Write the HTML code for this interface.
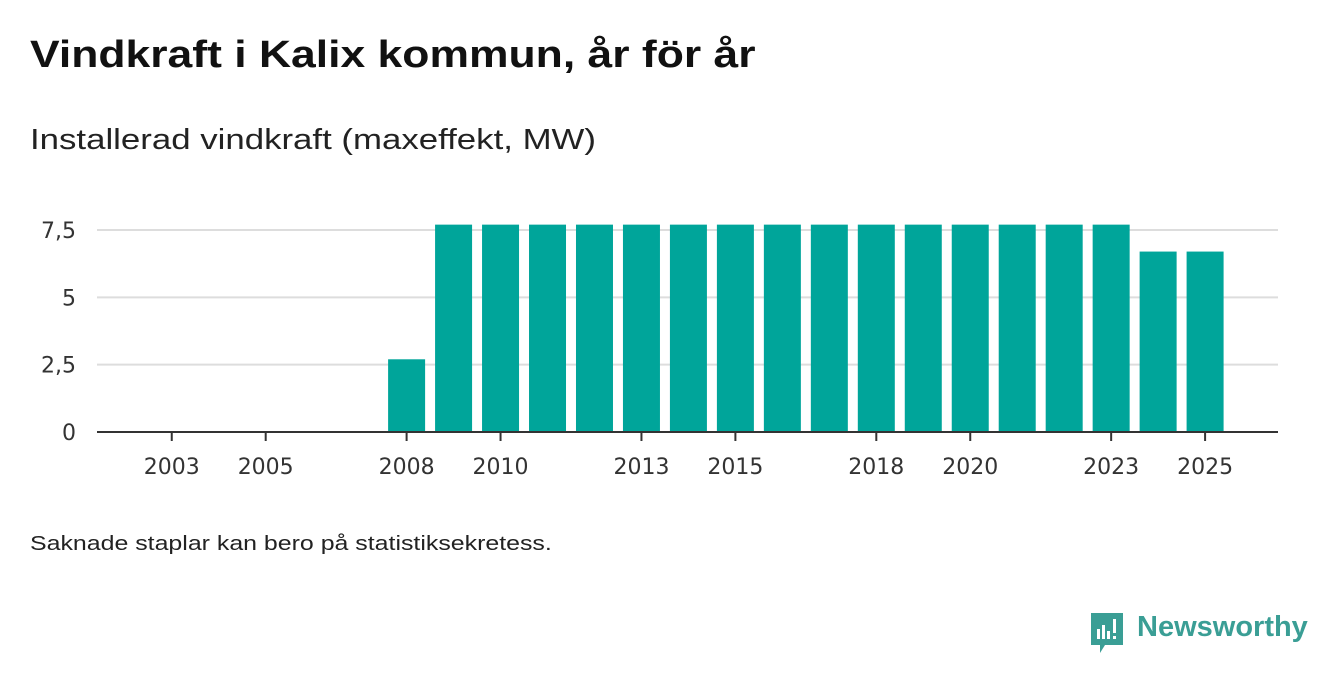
<!DOCTYPE html>
<html><head><meta charset="utf-8"><style>
body{margin:0;width:1340px;height:685px;background:#fff;font-family:"Liberation Sans",sans-serif;overflow:hidden;position:relative}
.t{position:absolute;white-space:nowrap;transform-origin:0 0}
</style></head><body>
<div class="t" style="left:30px;top:34px;font-size:38px;font-weight:bold;color:#111;transform:scaleX(1.17)">Vindkraft i Kalix kommun, år för år</div>
<div class="t" style="left:30px;top:124px;font-size:29px;color:#222;transform:scaleX(1.2)">Installerad vindkraft (maxeffekt, MW)</div>
<svg id="c" width="1340" height="685" style="position:absolute;left:0;top:0"></svg>
<div class="t" style="left:30px;top:533px;font-size:20px;color:#222;transform:scaleX(1.245)">Saknade staplar kan bero på statistiksekretess.</div>
<div style="position:absolute;left:1089px;top:613px;">
<svg width="36" height="42"><path d="M2 0h32v32H16l-5 8v-8H2z" fill="#3a9e95"/><rect x="8" y="16" width="3" height="10" fill="#fff"/><rect x="13" y="12" width="3" height="14" fill="#fff"/><rect x="18" y="18" width="3" height="8" fill="#fff"/><rect x="24" y="6" width="3" height="14" fill="#fff"/><rect x="24" y="23" width="3" height="3" fill="#fff"/></svg>
<span class="t" style="left:48px;top:-2px;font-size:29px;font-weight:bold;color:#3a9e95">Newsworthy</span>
</div>
<script>
const years=[2002,2003,2004,2005,2006,2007,2008,2009,2010,2011,2012,2013,2014,2015,2016,2017,2018,2019,2020,2021,2022,2023,2024,2025,2026];
const values=[0,0,0,0,0,0,2.7,7.7,7.7,7.7,7.7,7.7,7.7,7.7,7.7,7.7,7.7,7.7,7.7,7.7,7.7,7.7,6.7,6.7,null];
const yTicks=[0,2.5,5,7.5];
const yTickLabels=["0","2,5","5","7,5"];
const xTickYears=[2003,2005,2008,2010,2013,2015,2018,2020,2023,2025];
const svg=document.getElementById('c');const NS='http://www.w3.org/2000/svg';
const x0=101.3,step=46.97,barW=37;
const xc=y=>x0+(years.indexOf(y)+0.5)*step;
const yS=v=>432-v*26.93;
function mk(t,a){const e=document.createElementNS(NS,t);for(const k in a)e.setAttribute(k,a[k]);svg.appendChild(e);return e;}
yTicks.forEach((v,i)=>{
 if(v>0){const l=mk('line',{x1:97,x2:1278,y1:yS(v),y2:yS(v),stroke:'#ddd','stroke-width':2});
 
 }
 const t=mk('text',{x:76,y:yS(v)+8,'text-anchor':'end','font-size':22,fill:'#333','font-family':'DejaVu Sans, sans-serif'});t.textContent=yTickLabels[i];
 
 
});
years.forEach((y,i)=>{const v=values[i];if(!v)return;
 const r=mk('rect',{x:xc(y)-barW/2,y:yS(v),width:barW,height:432-yS(v),fill:'#00a59a'});
 
 
});
const ax=mk('line',{x1:97,x2:1278,y1:432,y2:432,stroke:'#333','stroke-width':2});


xTickYears.forEach(y=>{
 const tk=mk('line',{x1:xc(y),x2:xc(y),y1:432,y2:441,stroke:'#333','stroke-width':2});
 
 
 const t=mk('text',{x:xc(y),y:474,'text-anchor':'middle','font-size':22,fill:'#333','font-family':'DejaVu Sans, sans-serif'});t.textContent=y;
 
 
});
</script>
</body></html>
